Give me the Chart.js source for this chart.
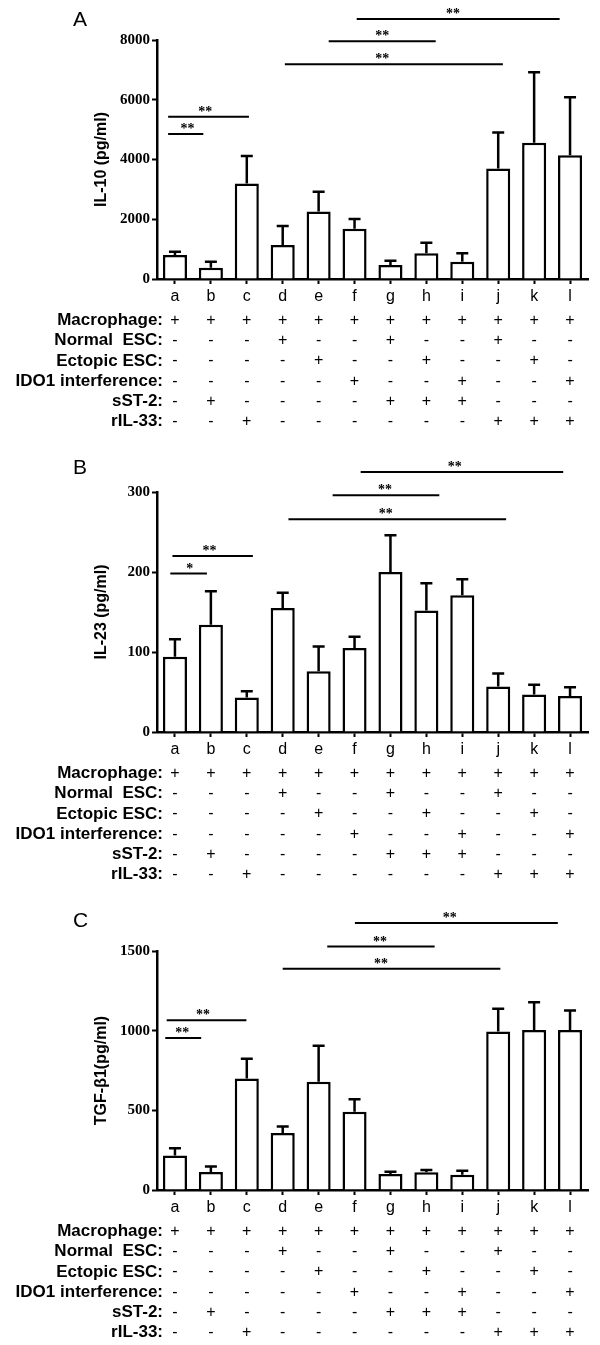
<!DOCTYPE html>
<html>
<head>
<meta charset="utf-8">
<script src="https://cdn.jsdelivr.net/npm/chart.js@4.4.0/dist/chart.umd.min.js"></script>
<style>
    html, body { margin: 0; padding: 0; background: #fff; overflow: hidden; }
    #page { position: relative; width: 600px; height: 1345px; }
    #page canvas { position: absolute; left: 0; }
</style>
</head>
<body>
<div id="page">
    <canvas id="chartA" width="600" height="435" style="top:0px"></canvas>
    <canvas id="chartB" width="600" height="435" style="top:452px"></canvas>
    <canvas id="chartC" width="600" height="435" style="top:910px"></canvas>
</div>
<script>
    // 组别 a-l
    var GROUPS = ['a', 'b', 'c', 'd', 'e', 'f', 'g', 'h', 'i', 'j', 'k', 'l'];

    // IL-10 (pg/ml)
    var IL10_MEAN = [800, 380, 3200, 1140, 2260, 1680, 470, 860, 580, 3700, 4560, 4140];
    var IL10_ERR = [110, 200, 920, 630, 660, 330, 140, 350, 280, 1200, 2360, 1940];
    var IL10_TICKS = [0, 2000, 4000, 6000, 8000];

    // IL-23 (pg/ml)
    var IL23_MEAN = [94, 134, 43, 155, 76, 105, 200, 152, 171, 57, 47, 45];
    var IL23_ERR = [22, 42, 8, 19, 31, 14, 46, 34, 20, 16, 12, 11];
    var IL23_TICKS = [0, 100, 200, 300];

    // TGF-β1 (pg/ml)
    var TGF_MEAN = [216, 113, 700, 358, 679, 491, 101, 111, 96, 994, 1004, 1004];
    var TGF_ERR = [46, 34, 124, 40, 227, 79, 14, 15, 25, 144, 174, 122];
    var TGF_TICKS = [0, 500, 1000, 1500];

    // 显著性标注：[起点组序, 终点组序, 高度(数据值), 星号, 星号位置(组序)]
    var IL10_SIG = [
        [-0.19, 0.79, 4853, '**', 0.35],
        [-0.19, 2.06, 5433, '**', 0.84],
        [3.06, 9.13, 7187, '**', 5.77],
        [4.28, 7.26, 7956, '**', 5.77],
        [5.06, 10.71, 8703, '**', 7.74]
    ];
    var IL23_SIG = [
        [-0.13, 0.89, 198, '*', 0.41],
        [-0.07, 2.17, 220, '**', 0.96],
        [3.16, 9.22, 266, '**', 5.87],
        [4.39, 7.36, 296, '**', 5.85],
        [5.17, 10.81, 325, '**', 7.79]
    ];
    var TGF_SIG = [
        [-0.27, 0.73, 954, '**', 0.2],
        [-0.23, 1.99, 1065, '**', 0.78],
        [3.0, 9.06, 1388, '**', 5.74],
        [4.24, 7.23, 1528, '**', 5.71],
        [5.01, 10.66, 1675, '**', 7.65]
    ];

    // 处理条件表
    var ROW_LABELS = ['Macrophage:', 'Normal  ESC:', 'Ectopic ESC:', 'IDO1 interference:', 'sST-2:', 'rIL-33:'];
    var MACROPHAGE = ['+', '+', '+', '+', '+', '+', '+', '+', '+', '+', '+', '+'];
    var NORMAL_ESC = ['-', '-', '-', '+', '-', '-', '+', '-', '-', '+', '-', '-'];
    var ECTOPIC_ESC = ['-', '-', '-', '-', '+', '-', '-', '+', '-', '-', '+', '-'];
    var IDO1_RNAI = ['-', '-', '-', '-', '-', '+', '-', '-', '+', '-', '-', '+'];
    var SST2 = ['-', '+', '-', '-', '-', '-', '+', '+', '+', '-', '-', '-'];
    var RIL33 = ['-', '-', '+', '-', '-', '-', '-', '-', '-', '+', '+', '+'];
    var ROWS = [MACROPHAGE, NORMAL_ESC, ECTOPIC_ESC, IDO1_RNAI, SST2, RIL33];

    var SANS = 'Arial, "Liberation Sans", sans-serif';
    var SERIF = '"Times New Roman", "Liberation Serif", serif';
    var CANVAS_H = 435;

    // 误差线 + 显著性横线 + 条件表 + 面板字母
    function makeOverlay(panel) {
        return {
            id: 'overlay' + panel.letter,
            afterDatasetsDraw: function (chart) {
                var ctx = chart.ctx;
                var xs = chart.scales.x;
                var ys = chart.scales.y;
                var meta = chart.getDatasetMeta(0);
                ctx.save();
                ctx.strokeStyle = '#000';
                ctx.lineCap = 'butt';

                // 误差线（仅向上）
                ctx.lineWidth = 2.5;
                for (var i = 0; i < panel.means.length; i++) {
                    var bx = meta.data[i].x;
                    var y0 = ys.getPixelForValue(panel.means[i]);
                    var y1 = ys.getPixelForValue(panel.means[i] + panel.errs[i]);
                    ctx.beginPath();
                    ctx.moveTo(bx, y0);
                    ctx.lineTo(bx, y1);
                    ctx.moveTo(bx - 6, y1);
                    ctx.lineTo(bx + 6, y1);
                    ctx.stroke();
                }

                // 显著性
                ctx.lineWidth = 2;
                ctx.fillStyle = '#000';
                ctx.font = 'bold 14px ' + SERIF;
                ctx.textAlign = 'center';
                ctx.textBaseline = 'alphabetic';
                for (var j = 0; j < panel.sig.length; j++) {
                    var s = panel.sig[j];
                    var sy = ys.getPixelForValue(s[2]);
                    ctx.beginPath();
                    ctx.moveTo(xs.getPixelForValue(s[0]), sy);
                    ctx.lineTo(xs.getPixelForValue(s[1]), sy);
                    ctx.stroke();
                    ctx.fillText(s[3], xs.getPixelForValue(s[4]), sy - 1);
                }
                ctx.restore();
            },
            afterDraw: function (chart) {
                var ctx = chart.ctx;
                var xs = chart.scales.x;
                var area = chart.chartArea;
                ctx.save();
                ctx.fillStyle = '#000';
                ctx.textBaseline = 'middle';

                for (var r = 0; r < ROWS.length; r++) {
                    var ry = area.bottom + 41.5 + 20.25 * r;
                    ctx.font = 'bold 17px ' + SANS;
                    ctx.textAlign = 'right';
                    ctx.fillText(ROW_LABELS[r], area.left + 6, ry);
                    ctx.font = '16px ' + SANS;
                    ctx.textAlign = 'center';
                    for (var c = 0; c < ROWS[r].length; c++) {
                        ctx.fillText(ROWS[r][c], xs.getPixelForValue(c), ry);
                    }
                }

                ctx.font = '21px ' + SANS;
                ctx.textAlign = 'left';
                ctx.fillText(panel.letter, 73, panel.letterY);
                ctx.restore();
            }
        };
    }

    function renderPanel(canvasId, panel) {
        var canvas = document.getElementById(canvasId);
        return new Chart(canvas.getContext('2d'), {
            type: 'bar',
            data: {
                labels: GROUPS,
                datasets: [{
                    data: panel.means,
                    backgroundColor: '#fff',
                    borderColor: '#000',
                    borderWidth: 2.5,
                    barPercentage: 0.67,
                    categoryPercentage: 1
                }]
            },
            options: {
                responsive: false,
                animation: false,
                layout: { padding: { top: panel.top, right: 12, left: 0, bottom: 0 } },
                plugins: {
                    legend: { display: false },
                    tooltip: { enabled: false }
                },
                scales: {
                    x: {
                        grid: {
                            offset: false,
                            drawOnChartArea: false,
                            tickLength: 5,
                            tickWidth: 2,
                            tickColor: '#000'
                        },
                        border: { color: '#000', width: 2.5 },
                        ticks: { color: '#000', padding: 3, font: { family: SANS, size: 16 } },
                        afterFit: function (axis) { axis.height = CANVAS_H - panel.zero; }
                    },
                    y: {
                        min: 0,
                        max: panel.ticks[panel.ticks.length - 1],
                        afterBuildTicks: function (axis) {
                            axis.ticks = panel.ticks.map(function (v) { return { value: v }; });
                        },
                        grid: {
                            drawOnChartArea: false,
                            tickLength: 5,
                            tickWidth: 2,
                            tickColor: '#000'
                        },
                        border: { color: '#000', width: 2.5 },
                        ticks: {
                            color: '#000',
                            padding: 2,
                            font: { family: SERIF, size: 15, weight: 'bold' },
                            callback: function (value) { return String(value); }
                        },
                        title: {
                            display: true,
                            text: panel.title,
                            color: '#000',
                            padding: { top: 92, bottom: 0 },
                            font: { family: SANS, size: 16, weight: 'bold' }
                        },
                        afterFit: function (axis) { axis.width = 157; }
                    }
                }
            },
            plugins: [makeOverlay(panel)]
        });
    }

    renderPanel('chartA', {
        letter: 'A', letterY: 20, top: 40, zero: 279,
        title: 'IL-10 (pg/ml)', means: IL10_MEAN, errs: IL10_ERR, ticks: IL10_TICKS, sig: IL10_SIG
    });
    renderPanel('chartB', {
        letter: 'B', letterY: 16, top: 40, zero: 280,
        title: 'IL-23 (pg/ml)', means: IL23_MEAN, errs: IL23_ERR, ticks: IL23_TICKS, sig: IL23_SIG
    });
    renderPanel('chartC', {
        letter: 'C', letterY: 11, top: 41, zero: 280,
        title: 'TGF-β1(pg/ml)', means: TGF_MEAN, errs: TGF_ERR, ticks: TGF_TICKS, sig: TGF_SIG
    });
</script>
</body>
</html>
